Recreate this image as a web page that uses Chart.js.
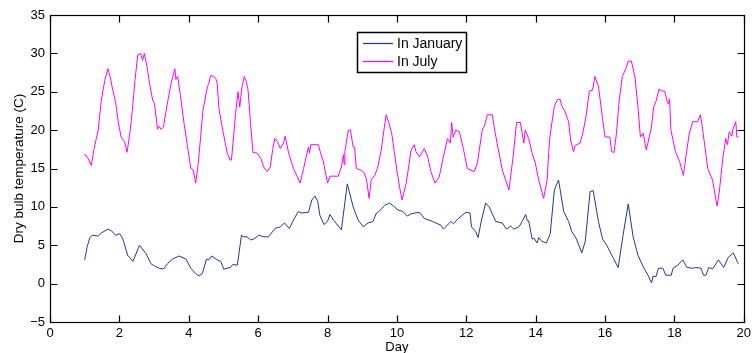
<!DOCTYPE html>
<html>
<head>
<meta charset="utf-8">
<script src="https://cdn.jsdelivr.net/npm/chart.js@4"></script>
<style>
    html, body { margin: 0; padding: 0; background: #fff; }
    #wrap { width: 755px; height: 353px; }
</style>
</head>
<body>
<div id="wrap"><canvas id="myChart" width="755" height="353"></canvas></div>
<script>
// values (day, temperature)
const janDays = [1.00,1.07,1.15,1.22,1.39,1.48,1.67,1.77,1.89,2.01,2.10,2.24,2.39,2.58,2.77,2.91,3.01,3.15,3.27,3.39,3.53,3.72,3.92,4.06,4.20,4.30,4.39,4.51,4.58,4.66,4.82,4.92,5.01,5.20,5.27,5.40,5.52,5.59,5.68,5.78,5.87,6.02,6.16,6.30,6.49,6.64,6.76,6.90,7.02,7.16,7.24,7.45,7.55,7.64,7.72,7.78,7.90,8.00,8.07,8.17,8.40,8.57,8.74,8.88,9.03,9.17,9.31,9.41,9.48,9.65,9.79,9.93,10.03,10.17,10.30,10.41,10.65,10.79,11.03,11.27,11.34,11.56,11.63,11.75,11.99,12.11,12.15,12.27,12.34,12.44,12.56,12.66,12.85,13.04,13.16,13.28,13.37,13.52,13.61,13.71,13.76,13.80,13.90,13.96,14.04,14.09,14.18,14.31,14.42,14.54,14.66,14.81,14.95,15.04,15.17,15.33,15.43,15.57,15.66,15.81,15.93,16.05,16.24,16.38,16.52,16.67,16.81,16.95,17.10,17.24,17.34,17.39,17.47,17.54,17.67,17.75,17.91,17.96,18.10,18.24,18.36,18.53,18.61,18.77,18.84,18.91,18.99,19.10,19.27,19.42,19.55,19.70,19.84];
const janTemps = [3.1,4.8,6.0,6.3,6.2,6.6,7.1,6.9,6.3,6.5,5.8,3.7,2.9,5.0,3.9,2.6,2.3,2.0,1.9,2.6,3.2,3.6,3.2,2.0,1.3,1.0,1.3,3.2,3.1,3.6,3.1,2.9,1.9,2.1,2.5,2.4,6.3,6.1,6.1,5.7,5.8,6.3,6.1,6.1,7.2,7.4,7.9,7.2,8.3,9.4,9.2,9.3,10.9,11.4,10.7,8.9,7.7,8.1,9.0,8.3,7.0,13.0,10.0,8.3,7.4,7.9,8.1,9.2,9.4,10.2,10.5,10.0,9.6,9.4,8.8,9.1,9.3,8.5,8.1,7.6,7.1,8.1,7.8,8.4,9.3,9.2,7.4,6.8,6.0,8.3,10.5,10.0,8.1,7.9,7.1,7.5,7.1,7.4,8.1,9.0,8.2,8.2,5.8,5.9,5.3,6.0,5.5,5.3,6.5,12.2,13.5,9.4,8.1,6.8,5.9,4.0,5.5,12.0,12.1,8.1,5.8,5.0,3.3,2.1,6.3,10.4,6.1,3.7,2.2,1.1,0.1,1.0,0.9,2.0,2.0,1.1,1.1,2.0,2.4,3.1,2.1,2.0,2.1,2.0,1.1,1.1,2.1,1.9,3.1,2.1,3.4,4.0,2.6];

const julDays = [1.00,1.10,1.19,1.28,1.39,1.48,1.58,1.67,1.74,1.81,1.89,1.97,2.05,2.15,2.22,2.30,2.37,2.45,2.53,2.61,2.67,2.72,2.80,2.87,2.96,3.01,3.10,3.15,3.20,3.27,3.38,3.49,3.60,3.63,3.68,3.76,3.87,3.96,4.06,4.13,4.20,4.27,4.34,4.41,4.54,4.58,4.63,4.73,4.78,4.82,4.87,4.98,5.11,5.19,5.23,5.29,5.35,5.42,5.47,5.53,5.60,5.66,5.71,5.78,5.85,5.97,6.08,6.16,6.26,6.35,6.42,6.48,6.56,6.64,6.73,6.78,6.88,7.02,7.12,7.21,7.31,7.45,7.48,7.52,7.74,7.80,7.88,8.00,8.07,8.31,8.40,8.46,8.48,8.50,8.60,8.66,8.74,8.78,8.83,8.96,9.05,9.12,9.20,9.26,9.36,9.44,9.55,9.62,9.69,9.76,9.85,9.93,10.00,10.08,10.15,10.27,10.41,10.50,10.55,10.65,10.79,10.89,10.98,11.10,11.22,11.32,11.46,11.54,11.58,11.62,11.70,11.80,11.92,12.03,12.13,12.23,12.32,12.46,12.52,12.61,12.75,12.82,12.89,13.04,13.23,13.35,13.45,13.56,13.66,13.70,13.80,13.90,13.99,14.09,14.23,14.33,14.40,14.47,14.54,14.63,14.71,14.76,14.85,14.95,15.01,15.09,15.14,15.28,15.36,15.45,15.55,15.64,15.71,15.81,15.93,16.00,16.14,16.19,16.26,16.33,16.41,16.50,16.60,16.67,16.76,16.86,16.95,17.02,17.10,17.19,17.34,17.40,17.48,17.56,17.62,17.72,17.78,17.83,17.86,17.90,18.03,18.15,18.26,18.34,18.43,18.53,18.67,18.75,18.81,18.91,18.96,19.10,19.23,19.29,19.39,19.48,19.53,19.58,19.66,19.68,19.77,19.80,19.85];
const julTemps = [16.9,16.3,15.4,17.8,20.0,23.9,26.5,28.0,26.8,25.2,23.7,21.0,19.1,18.5,17.1,19.5,22.4,26.5,29.8,30.0,29.1,30.0,28.2,26.1,23.9,23.5,20.1,20.5,20.1,20.4,23.4,26.1,28.0,26.6,27.0,24.5,20.7,18.0,15.0,14.8,13.1,15.5,19.0,22.6,25.7,26.1,27.1,27.0,26.7,26.1,22.8,20.0,17.0,16.1,16.1,19.0,22.2,25.0,23.0,25.5,27.0,26.3,25.2,21.0,17.1,17.0,16.3,15.2,14.6,15.2,17.5,18.9,18.5,17.6,18.3,19.2,17.0,15.0,14.0,13.1,15.0,17.8,17.0,18.1,18.1,17.0,15.9,13.1,14.0,14.0,15.2,16.8,15.5,17.2,20.0,20.0,17.8,17.8,15.0,14.8,14.5,13.7,11.1,13.5,14.1,15.0,17.4,19.8,22.0,21.1,19.6,17.0,14.8,12.5,10.9,13.1,17.4,18.1,17.2,16.5,17.6,16.5,14.6,13.1,13.9,16.1,18.9,18.3,21.0,19.1,20.0,19.8,17.5,15.0,14.8,14.6,15.7,20.0,20.5,22.0,22.0,20.0,18.3,14.8,12.2,16.5,21.0,21.0,18.3,20.0,18.9,17.0,15.7,13.5,11.1,13.5,18.7,21.0,23.1,24.0,24.0,23.1,22.4,21.1,18.7,17.2,18.0,18.3,19.6,21.7,25.1,25.2,27.0,25.7,21.5,19.1,19.1,17.2,17.1,19.6,23.9,27.0,28.0,29.0,29.0,27.0,23.0,19.1,19.6,17.4,20.4,23.0,23.9,25.4,25.1,25.1,23.9,23.4,24.1,20.0,17.2,15.9,14.1,16.8,19.6,21.1,21.1,22.0,20.2,16.8,15.0,13.5,10.1,11.8,16.1,18.9,18.1,19.8,19.2,20.0,21.1,19.1,19.1];

const seriesNames = ['In January', 'In July'];
const seriesColors = ['#22388f', '#ff00ff'];
const xTicks = [0, 2, 4, 6, 8, 10, 12, 14, 16, 18, 20];
const yTicks = [-5, 0, 5, 10, 15, 20, 25, 30, 35];

const FONT = 'Liberation Sans, Arial, Helvetica, sans-serif';

function toPoints(xs, ys) {
    return xs.map((d, i) => ({ x: d, y: ys[i] }));
}

// box round the plot, inward ticks on all sides, and the legend box
const matlabFrame = {
    id: 'matlabFrame',
    afterDatasetsDraw(chart) {
        const { ctx, chartArea: a, scales: { x, y } } = chart;
        const L = Math.round(a.left) + 0.5, R = Math.round(a.right) + 0.5;
        const T = Math.round(a.top) + 0.5, B = Math.round(a.bottom) + 0.5;
        const len = 7;
        ctx.save();
        ctx.strokeStyle = '#000';
        ctx.lineWidth = 1.2;
        ctx.strokeRect(L, T, R - L, B - T);
        ctx.beginPath();
        xTicks.forEach(v => {
            const px = Math.round(x.getPixelForValue(v)) + 0.5;
            ctx.moveTo(px, B); ctx.lineTo(px, B - len);
            ctx.moveTo(px, T); ctx.lineTo(px, T + len);
        });
        yTicks.forEach(v => {
            const py = Math.round(y.getPixelForValue(v)) + 0.5;
            ctx.moveTo(L, py); ctx.lineTo(L + len, py);
            ctx.moveTo(R, py); ctx.lineTo(R - len, py);
        });
        ctx.stroke();

        // legend
        ctx.fillStyle = '#fff';
        ctx.fillRect(357.5, 32.5, 109, 40);
        ctx.strokeStyle = '#000';
        ctx.lineWidth = 1.5;
        ctx.strokeRect(357.5, 32.5, 109, 40);
        ctx.font = '14px ' + FONT;
        ctx.textBaseline = 'middle';
        seriesNames.forEach((name, i) => {
            const ly = i === 0 ? 43 : 61;
            ctx.strokeStyle = seriesColors[i];
            ctx.lineWidth = 1.2;
            ctx.beginPath();
            ctx.moveTo(363, ly + 0.5);
            ctx.lineTo(393, ly + 0.5);
            ctx.stroke();
            ctx.fillStyle = '#000';
            ctx.fillText(name, 397, ly + 1);
        });
        ctx.restore();
    }
};

const ctx = document.getElementById('myChart');

new Chart(ctx, {
    type: 'line',
    data: {
        datasets: [{
            label: seriesNames[0],
            data: toPoints(janDays, janTemps),
            borderColor: seriesColors[0],
            borderWidth: 1,
            pointRadius: 0,
            tension: 0
        }, {
            label: seriesNames[1],
            data: toPoints(julDays, julTemps),
            borderColor: seriesColors[1],
            borderWidth: 1,
            pointRadius: 0,
            tension: 0
        }]
    },
    options: {
        responsive: false,
        animation: false,
        devicePixelRatio: 1,
        layout: { padding: { left: 0, top: 15, right: 7, bottom: 0 } },
        plugins: {
            legend: { display: false },
            tooltip: { enabled: false }
        },
        scales: {
            x: {
                type: 'linear',
                min: 0,
                max: 20,
                afterFit: (s) => { s.height = 31; },
                afterBuildTicks: (s) => { s.ticks = xTicks.map(v => ({ value: v })); },
                grid: { display: false, drawTicks: false },
                border: { display: false },
                ticks: { color: '#000', padding: 4, maxRotation: 0, font: { family: FONT, size: 13 } },
                title: {
                    display: true,
                    text: 'Day',
                    color: '#000',
                    padding: { top: 0, bottom: -2 },
                    font: { family: FONT, size: 13 }
                }
            },
            y: {
                min: -5,
                max: 35,
                afterFit: (s) => { s.width = 50; },
                afterBuildTicks: (s) => { s.ticks = yTicks.map(v => ({ value: v })); },
                grid: { display: false, drawTicks: false },
                border: { display: false },
                ticks: {
                    color: '#000',
                    padding: 5,
                    font: { family: FONT, size: 13 },
                    callback: (v) => String(v).replace('-', '\u2212')
                },
                title: {
                    display: true,
                    text: 'Dry bulb temperature (C)',
                    color: '#000',
                    padding: { top: 11, bottom: 0 },
                    font: { family: FONT, size: 13.5 }
                }
            }
        }
    },
    plugins: [matlabFrame]
});
</script>
</body>
</html>
